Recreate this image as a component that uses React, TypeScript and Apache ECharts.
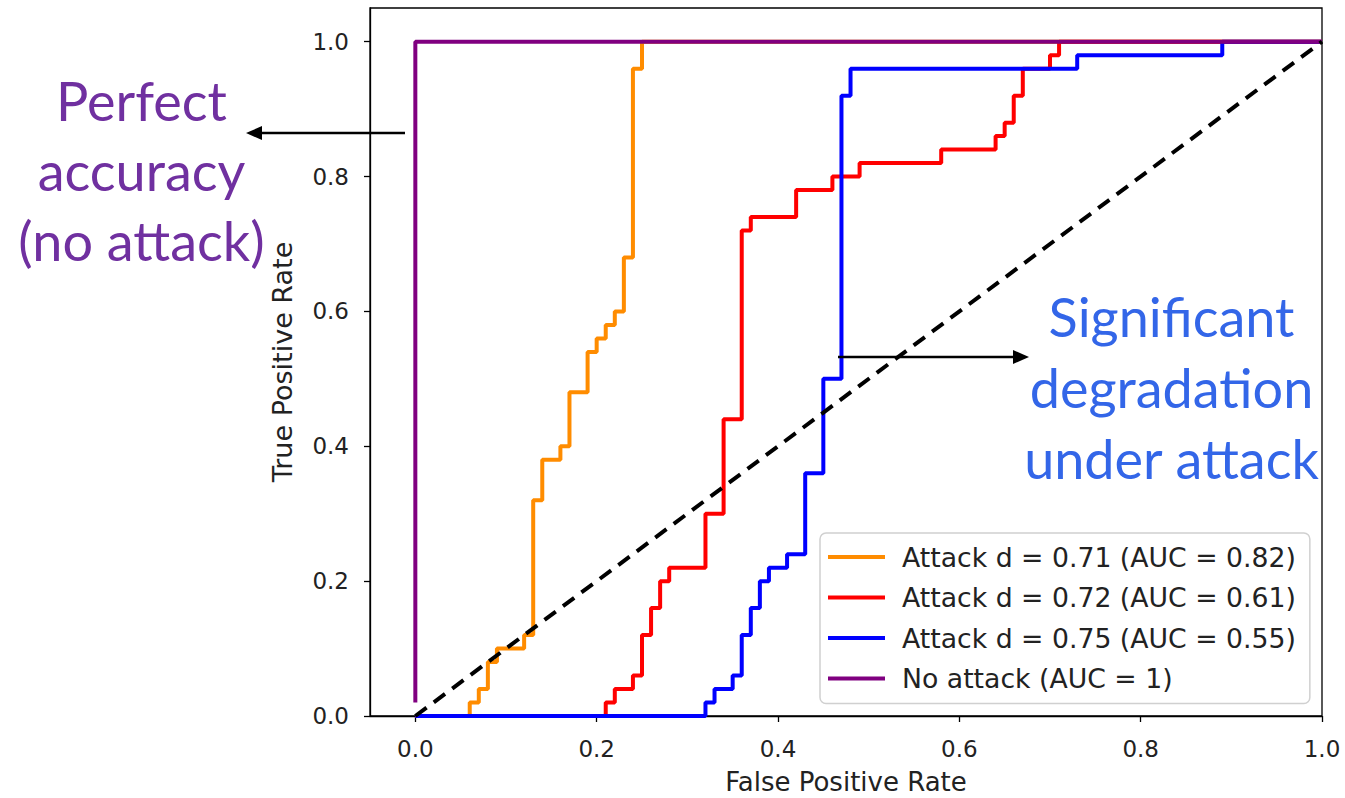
import React, { useEffect, useRef } from "react";
import * as echarts from "echarts";

// ROC curve corner points [FPR, TPR] (step: vertical first, then horizontal)
const orangeName = "Attack d = 0.71 (AUC = 0.82)";
const orangeFpr = [0, 0.06, 0.07, 0.08, 0.09, 0.12, 0.13, 0.14, 0.16, 0.17, 0.19, 0.2, 0.21, 0.22, 0.23, 0.24, 0.25, 1.0];
const orangeTpr = [0, 0, 0.02, 0.04, 0.08, 0.1, 0.12, 0.32, 0.38, 0.4, 0.48, 0.54, 0.56, 0.58, 0.6, 0.68, 0.96, 1.0];

const redName = "Attack d = 0.72 (AUC = 0.61)";
const redFpr = [0, 0.21, 0.22, 0.24, 0.25, 0.26, 0.27, 0.28, 0.32, 0.34, 0.36, 0.37, 0.42, 0.46, 0.49, 0.58, 0.64, 0.65, 0.66, 0.67, 0.7, 0.71, 1.0];
const redTpr = [0, 0, 0.02, 0.04, 0.06, 0.12, 0.16, 0.2, 0.22, 0.3, 0.44, 0.72, 0.74, 0.78, 0.8, 0.82, 0.84, 0.86, 0.88, 0.92, 0.96, 0.98, 1.0];

const blueName = "Attack d = 0.75 (AUC = 0.55)";
const blueFpr = [0, 0.32, 0.33, 0.35, 0.36, 0.37, 0.38, 0.39, 0.41, 0.43, 0.45, 0.47, 0.48, 0.73, 0.89, 1.0];
const blueTpr = [0, 0, 0.02, 0.04, 0.06, 0.12, 0.16, 0.2, 0.22, 0.24, 0.36, 0.5, 0.92, 0.96, 0.98, 1.0];

const purpleName = "No attack (AUC = 1)";
const purpleFpr = [0, 0, 1.0];
const purpleTpr = [0.02, 1.0, 1.0];

const chanceFpr = [0, 1];
const chanceTpr = [0, 1];

const tickValues = [0, 0.2, 0.4, 0.6, 0.8, 1.0];

const leftNote = ["Perfect", "accuracy", "(no attack)"];
const rightNote = ["Significant", "degradation", "under attack"];

const zip = (xs: number[], ys: number[]) => xs.map((x, i) => [x, ys[i]]);

const FONT = "DejaVu Sans";
const NOTE_FONT = "Lato";

export default function App() {
  const ref = useRef<HTMLDivElement>(null);
  useEffect(() => {
    if (!ref.current) return;
    const chart = echarts.init(ref.current, null, { renderer: "svg" });

    const lineSeries = (name: string, xs: number[], ys: number[], color: string) => ({
      name,
      type: "line",
      data: zip(xs, ys),
      step: "start",
      symbol: "none",
      lineStyle: { color, width: 4 },
      itemStyle: { color },
    });

    const noteTexts: any[] = [];
    leftNote.forEach((t, i) => {
      noteTexts.push({
        type: "text",
        x: 141.5,
        y: 100 + i * 70,
        style: {
          text: t,
          fill: "#7030A0",
          font: `54px ${NOTE_FONT}`,
          textAlign: "center",
          textVerticalAlign: "middle",
        },
      });
    });
    rightNote.forEach((t, i) => {
      noteTexts.push({
        type: "text",
        x: 1171.5,
        y: 316 + i * 71,
        style: {
          text: t,
          fill: "#3366E8",
          font: `54px ${NOTE_FONT}`,
          textAlign: "center",
          textVerticalAlign: "middle",
        },
      });
    });

    chart.setOption({
      animation: false,
      backgroundColor: "#fff",
      textStyle: { fontFamily: FONT },
      grid: {
        left: 370,
        right: 23,
        top: 8,
        bottom: 82,
        outerBoundsMode: "none",
        containLabel: false,
        show: true,
        borderColor: "#000",
        borderWidth: 1.3,
        backgroundColor: "transparent",
      },
      xAxis: {
        type: "value",
        min: -0.05,
        max: 1.0,
        name: "False Positive Rate",
        nameLocation: "middle",
        nameGap: 54,
        nameTextStyle: { fontFamily: FONT, fontSize: 26, lineHeight: 24, color: "#222" },
        axisLine: { show: true, onZero: false, lineStyle: { color: "#000", width: 1.3 } },
        axisTick: { show: true, length: 6, customValues: tickValues, lineStyle: { color: "#000", width: 1.3 } },
        axisLabel: {
          customValues: tickValues,
          formatter: (v: number) => v.toFixed(1),
          fontFamily: FONT,
          fontSize: 23,
          color: "#222",
          margin: 21,
        },
        splitLine: { show: false },
      },
      yAxis: {
        type: "value",
        min: 0,
        max: 1.05,
        name: "True Positive Rate",
        nameLocation: "middle",
        nameGap: 74,
        nameTextStyle: { fontFamily: FONT, fontSize: 27, color: "#222" },
        axisLine: { show: true, onZero: false, lineStyle: { color: "#000", width: 1.3 } },
        axisTick: { show: true, length: 6, customValues: tickValues, lineStyle: { color: "#000", width: 1.3 } },
        axisLabel: {
          customValues: tickValues,
          formatter: (v: number) => v.toFixed(1),
          fontFamily: FONT,
          fontSize: 23,
          color: "#222",
          margin: 21,
        },
        splitLine: { show: false },
      },
      legend: {
        data: [orangeName, redName, blueName, purpleName],
        orient: "vertical",
        left: 820,
        top: 533,
        padding: [9, 14, 10, 8],
        itemGap: 10.5,
        itemWidth: 57,
        itemHeight: 4,
        icon: "rect",
        backgroundColor: "rgba(255,255,255,0.8)",
        borderColor: "#d0d0d0",
        borderWidth: 1.5,
        borderRadius: 6,
        textStyle: { fontFamily: FONT, fontSize: 26.7, color: "#222", lineHeight: 30, padding: [0, 0, 0, 12] },
      },
      series: [
        lineSeries(orangeName, orangeFpr, orangeTpr, "#FF8C00"),
        lineSeries(redName, redFpr, redTpr, "#FF0000"),
        lineSeries(blueName, blueFpr, blueTpr, "#0000FF"),
        lineSeries(purpleName, purpleFpr, purpleTpr, "#800080"),
        {
          name: "chance",
          type: "line",
          data: zip(chanceFpr, chanceTpr),
          symbol: "none",
          lineStyle: { color: "#000", width: 4, type: [14, 9] },
          itemStyle: { color: "#000" },
        },
      ],
      graphic: [
        ...noteTexts,
        {
          type: "line",
          shape: { x1: 405, y1: 133, x2: 258, y2: 133 },
          style: { stroke: "#000", lineWidth: 2.6 },
          z: 100,
        },
        {
          type: "polygon",
          shape: { points: [[246, 133], [262, 126], [262, 140]] },
          style: { fill: "#000" },
          z: 100,
        },
        {
          type: "line",
          shape: { x1: 838, y1: 357, x2: 1018, y2: 357 },
          style: { stroke: "#000", lineWidth: 2.6 },
          z: 100,
        },
        {
          type: "polygon",
          shape: { points: [[1029, 357], [1013, 350], [1013, 364]] },
          style: { fill: "#000" },
          z: 100,
        },
      ],
    });
    return () => chart.dispose();
  }, []);

  return (
    <div
      ref={ref}
      style={{ position: "fixed", left: 0, top: 0, width: 1345, height: 798 }}
    />
  );
}
